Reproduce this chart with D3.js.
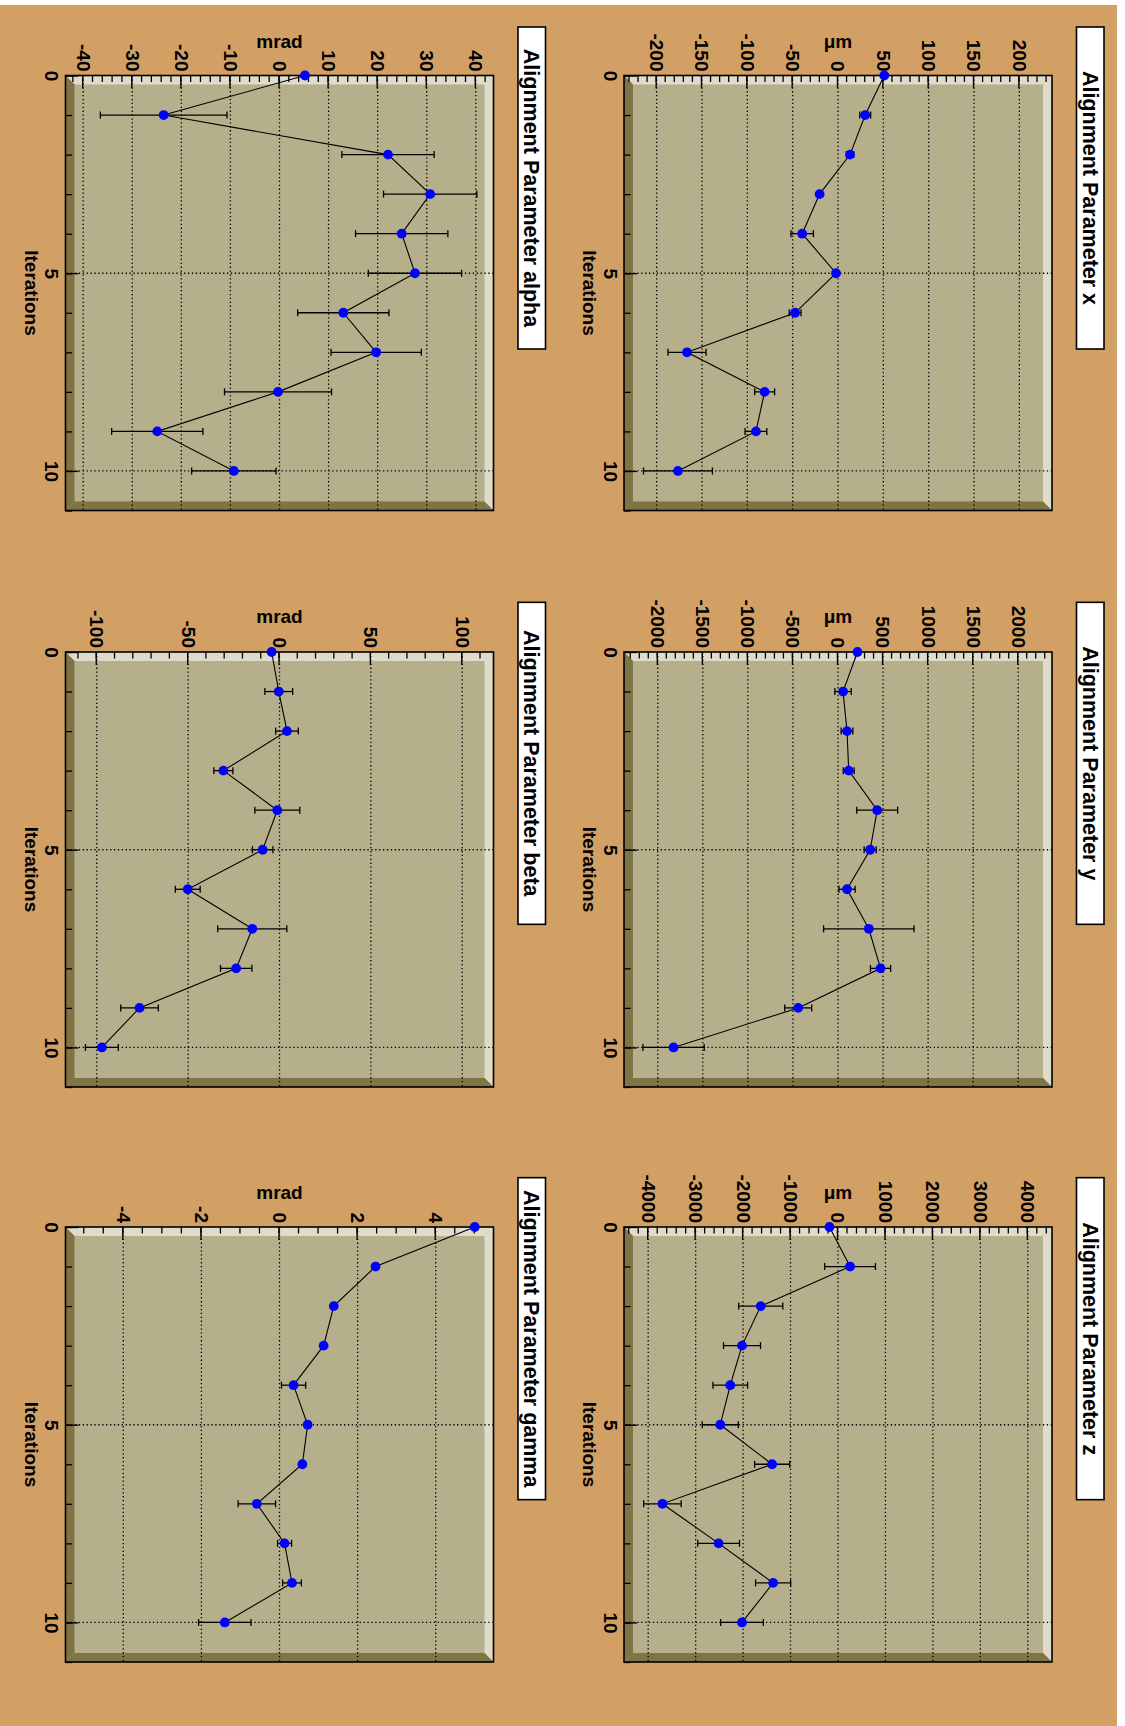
<!DOCTYPE html>
<html><head><meta charset="utf-8">
<script src="https://cdn.jsdelivr.net/npm/d3@7"></script>
<style>body{margin:0;background:#ffffff}svg{display:block}</style>
</head><body>
<svg id="c" width="1125" height="1726"></svg>
<script>
// ---------- data ----------
const iterations = [0,1,2,3,4,5,6,7,8,9,10];
const titles = ["Alignment Parameter x","Alignment Parameter y","Alignment Parameter z",
                "Alignment Parameter alpha","Alignment Parameter beta","Alignment Parameter gamma"];
const units = ["\u03bcm","\u03bcm","\u03bcm","mrad","mrad","mrad"];

const valX = [51, 30, 13.3, -20.3, -39.5, -2.2, -47.3, -166.5, -80.9, -90.5, -176.5];
const errX = [0, 6, 4, 0, 12.4, 0, 6.5, 21, 11, 12, 38];
const valY = [216, 56, 100, 119, 435, 357, 100, 342, 472, -442, -1825];
const errY = [0, 91, 65, 60, 227, 67, 90, 502, 112, 150, 340];
const valZ = [-180, 254, -1628, -2023, -2270, -2481, -1388, -3700, -2516, -1367, -2023];
const errZ = [0, 535, 465, 390, 365, 380, 370, 395, 440, 370, 450];
const valAlpha = [5.2, -23.6, 22.1, 30.7, 24.9, 27.6, 13.0, 19.7, -0.3, -24.9, -9.3];
const errAlpha = [0, 12.9, 9.4, 9.5, 9.4, 9.5, 9.3, 9.2, 10.9, 9.3, 8.6];
const valBeta = [-4.3, -0.4, 4.1, -30.7, -1.2, -9.2, -50.2, -14.9, -23.7, -76.6, -97.2];
const errBeta = [0, 7.6, 6.2, 5.2, 12.3, 5.6, 6.8, 18.9, 8.6, 10.3, 9];
const valGamma = [5.0, 2.46, 1.39, 1.13, 0.36, 0.72, 0.585, -0.58, 0.13, 0.32, -1.40];
const errGamma = [0, 0.06, 0.06, 0.06, 0.31, 0.06, 0.06, 0.48, 0.18, 0.24, 0.67];

const seriesValues = [valX, valY, valZ, valAlpha, valBeta, valGamma];
const seriesErrors = [errX, errY, errZ, errAlpha, errBeta, errGamma];

// axis ranges and tick steps
const yLimit = [236, 2375, 4510, 43.6, 117.1, 5.48];
const majorStep = [50, 500, 1000, 10, 50, 2];
const minorStep = [10, 100, 200, 2, 10, 0.5];
const xDomain = [0, 11];
const xMajorTicks = [0, 5, 10];
const xMinorTicks = [0,1,2,3,4,5,6,7,8,9,10,11];

// ---------- style ----------
const C_CANVAS = "#d29f64";
const C_FRAME = "#b6af8b";
const C_DARK = "#7f7443";
const C_LIGHT = "#dfdccb";
const FONT = "'Liberation Sans', Arial, Helvetica, sans-serif";
const fmt = d => String(d);

const svg = d3.select("#c");
svg.append("rect").attr("x",0).attr("y",5).attr("width",1117).attr("height",1721).attr("fill",C_CANVAS);

// original (unrotated) canvas coordinates: u horizontal, v vertical
const g = svg.append("g").attr("transform","translate(1117,0) rotate(90)");

const padW = 1726/3, padH = 558.5;
const frameU0 = [75.5, 652, 1227];
const frameW = 435;
const bw = 9;

function ticksFor(lim, step){
  const out = [];
  const s = Math.ceil(-lim/step - 1e-9), e = Math.floor(lim/step + 1e-9);
  for (let i = s; i <= e; i++) out.push(+(i*step).toFixed(6));
  return out;
}

seriesValues.forEach((vals, k) => {
  const col = k % 3, row = Math.floor(k/3);
  const padU = col*padW, padV = row*padH;
  const u0 = frameU0[col], u1 = u0 + frameW;
  const v0 = padV + 65, v1 = padV + 493;
  const errs = seriesErrors[k];
  const R = yLimit[k];

  const x = d3.scaleLinear().domain(xDomain).range([u0, u1]);
  const y = d3.scaleLinear().domain([-R, R]).range([v1, v0]);

  const p = g.append("g");
  p.append("rect").attr("x",u0).attr("y",v0).attr("width",u1-u0).attr("height",v1-v0).attr("fill",C_FRAME);
  const poly = (pts, c) => p.append("polygon").attr("points", pts.map(d=>d.join(",")).join(" ")).attr("fill", c);
  poly([[u0,v0],[u1,v0],[u1-bw,v0+bw],[u0+bw,v0+bw]], C_LIGHT);
  poly([[u0,v0],[u0+bw,v0+bw],[u0+bw,v1-bw],[u0,v1]], C_LIGHT);
  poly([[u0,v1],[u0+bw,v1-bw],[u1-bw,v1-bw],[u1,v1]], C_DARK);
  poly([[u1,v0],[u1,v1],[u1-bw,v1-bw],[u1-bw,v0+bw]], C_DARK);

  const yMajor = ticksFor(R, majorStep[k]);
  const yMinor = ticksFor(R, minorStep[k]);

  const grid = p.append("g").attr("stroke","#000").attr("stroke-width",1.3).attr("stroke-dasharray","1.3,2.6").attr("fill","none");
  yMajor.forEach(t => grid.append("line").attr("x1",u0).attr("x2",u1).attr("y1",y(t)).attr("y2",y(t)));
  xMajorTicks.filter(t => t > 0).forEach(t => grid.append("line").attr("x1",x(t)).attr("x2",x(t)).attr("y1",v0).attr("y2",v1));

  const styleAxis = sel => {
    sel.select(".domain").remove();
    sel.selectAll("line").attr("stroke","#000").attr("stroke-width",1.3);
    sel.selectAll("text").attr("font-family",FONT).attr("font-weight","bold").attr("font-size",19).attr("fill","#000");
  };
  p.append("g").attr("transform",`translate(${u0},0)`)
    .call(d3.axisLeft(y).tickValues(yMinor).tickSizeInner(-6.5).tickSizeOuter(0).tickFormat(""))
    .call(styleAxis);
  p.append("g").attr("transform",`translate(${u0},0)`)
    .call(d3.axisLeft(y).tickValues(yMajor).tickSizeInner(-13).tickSizeOuter(0).tickPadding(4).tickFormat(fmt))
    .call(styleAxis);
  p.append("g").attr("transform",`translate(0,${v1})`)
    .call(d3.axisBottom(x).tickValues(xMinorTicks).tickSizeInner(-6.5).tickSizeOuter(0).tickFormat(""))
    .call(styleAxis);
  p.append("g").attr("transform",`translate(0,${v1})`)
    .call(d3.axisBottom(x).tickValues(xMajorTicks).tickSizeInner(-13).tickSizeOuter(0).tickPadding(7).tickFormat(fmt))
    .call(styleAxis);

  p.append("rect").attr("x",u0).attr("y",v0).attr("width",u1-u0).attr("height",v1-v0)
    .attr("fill","none").attr("stroke","#000").attr("stroke-width",1.6);

  p.append("text").attr("transform",`translate(${padU+48},${(v0+v1)/2}) rotate(-90)`)
    .attr("text-anchor","middle").attr("font-family",FONT).attr("font-weight","bold").attr("font-size",19)
    .text(units[k]);
  p.append("text").attr("x",(u0+u1)/2).attr("y",v1+41)
    .attr("text-anchor","middle").attr("font-family",FONT).attr("font-weight","bold").attr("font-size",19)
    .text("Iterations");

  const pts = iterations.map((it,i)=>({x:it, v:vals[i], e:errs[i]}));
  p.append("path").datum(pts)
    .attr("d", d3.line().x(d=>x(d.x)).y(d=>y(d.v)))
    .attr("fill","none").attr("stroke","#000").attr("stroke-width",1.1);
  const eb = p.append("g").attr("stroke","#000").attr("stroke-width",1.3);
  pts.filter(d=>d.e>0).forEach(d=>{
    const cx = x(d.x), ya = y(d.v - d.e), yb = y(d.v + d.e);
    eb.append("line").attr("x1",cx).attr("x2",cx).attr("y1",ya).attr("y2",yb);
    eb.append("line").attr("x1",cx-3.5).attr("x2",cx+3.5).attr("y1",ya).attr("y2",ya);
    eb.append("line").attr("x1",cx-3.5).attr("x2",cx+3.5).attr("y1",yb).attr("y2",yb);
  });
  p.append("g").selectAll("circle").data(pts).join("circle")
    .attr("cx",d=>x(d.x)).attr("cy",d=>y(d.v)).attr("r",4.9).attr("fill","#0000ff");

  const tb0 = padU + 27, tbW = 322;
  p.append("rect").attr("x",tb0).attr("y",padV+13).attr("width",tbW).attr("height",27.5)
    .attr("fill","#fff").attr("stroke","#000").attr("stroke-width",1.6);
  p.append("text").attr("x",tb0+tbW/2).attr("y",padV+34.5).attr("text-anchor","middle")
    .attr("font-family",FONT).attr("font-weight","bold").attr("font-size",21.5).text(titles[k]);
});
</script>
</body></html>
